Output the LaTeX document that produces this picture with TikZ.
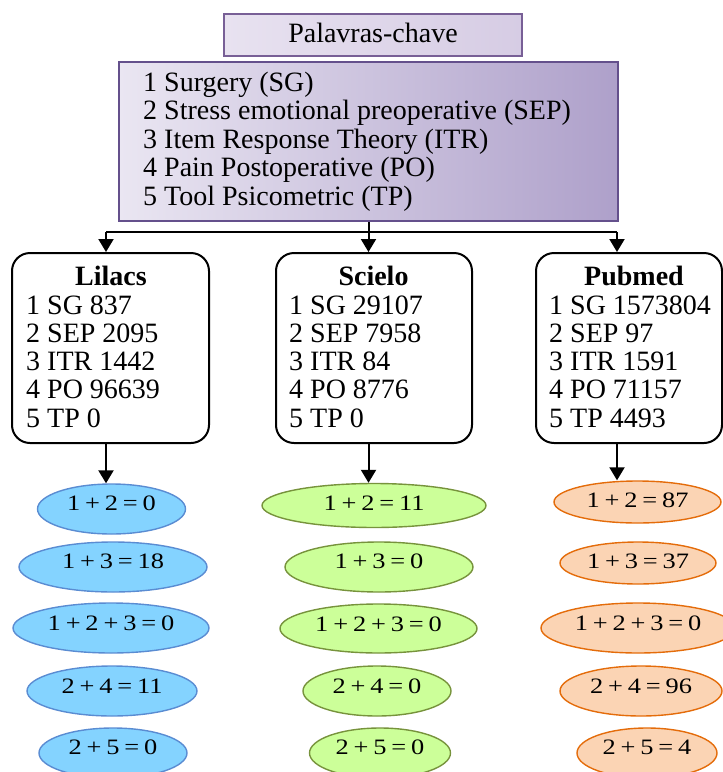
\documentclass[tikz,border=0pt]{standalone}
\usepackage{fontspec}
\setmainfont{Liberation Serif}
\newfontfamily\ellfam[FakeStretch=1.2]{Liberation Serif}
\usetikzlibrary{arrows.meta,shapes.geometric}
\definecolor{titleL}{RGB}{232,226,240}
\definecolor{titleR}{RGB}{214,204,228}
\definecolor{titleD}{RGB}{120,95,150}
\definecolor{kwL}{RGB}{234,230,242}
\definecolor{kwM}{RGB}{194,180,216}
\definecolor{kwR}{RGB}{174,160,202}
\definecolor{kwD}{RGB}{100,80,140}
\definecolor{blueF}{RGB}{132,211,255}
\definecolor{blueD}{RGB}{90,140,210}
\definecolor{greenF}{RGB}{204,255,153}
\definecolor{greenD}{RGB}{119,147,60}
\definecolor{orangeF}{RGB}{251,212,180}
\definecolor{orangeD}{RGB}{228,108,10}
\newcommand\ellfont{\ellfam\fontsize{22}{22}\selectfont\spaceskip=0.22em plus 0pt minus 0pt\relax}
\begin{document}
\begin{tikzpicture}[x=1pt,y=-1pt,
  bigfont/.style={font=\fontsize{28}{28}\selectfont},
  titlebox/.style={draw=titleD, line width=2pt, left color=titleL, right color=titleR, inner sep=0pt},
  kwbox/.style={draw=kwD, line width=2pt, left color=kwL, middle color=kwM, right color=kwR, inner sep=0pt},
  dbbox/.style={draw=black, line width=2pt, rounded corners=18pt, fill=white, inner sep=0pt, minimum height=190pt},
  txt/.style={anchor=base west, bigfont, inner sep=0pt},
  hdr/.style={anchor=base, font=\fontsize{28}{28}\selectfont\bfseries, inner sep=0pt},
  conn/.style={draw=black, line width=2pt},
  arr/.style={conn, -{Triangle[width=15pt,length=13pt]}},
  ell/.style={ellipse, inner sep=0pt, line width=1.4pt, text height=15pt, font={\ellfont}},
  eb/.style={ell, draw=blueD, fill=blueF},
  eg/.style={ell, draw=greenD, fill=greenF},
  eo/.style={ell, draw=orangeD, fill=orangeF}
]
\useasboundingbox (0,0) rectangle (723,772);

% title and keyword list
\node[titlebox, minimum width=298pt, minimum height=42pt] (title) at (373,35) {};
\node[anchor=base, bigfont, inner sep=0pt] (titletxt) at (373,42) {Palavras-chave};
\node[kwbox, minimum width=499pt, minimum height=159pt] (kw) at (368.5,141.5) {};
\foreach \t [count=\i] in {1 Surgery (SG),
  2 Stress emotional preoperative (SEP),
  3 Item Response Theory (ITR),
  4 Pain Postoperative (PO),
  5 Tool Psicometric (TP)}
  \node[txt] (kw\i) at (143,{91+28.5*(\i-1)}) {\t};

% database boxes
\node[dbbox, minimum width=197pt] (lil) at (110.5,348) {};
\node[dbbox, minimum width=196pt] (sci) at (374,348) {};
\node[dbbox, minimum width=186pt] (pub) at (629,348) {};
\node[hdr] (lilh) at (111,285) {Lilacs};
\node[hdr] (scih) at (373.5,285) {Scielo};
\node[hdr] (pubh) at (634,285) {Pubmed};
\foreach \t [count=\i] in {1 SG 837, 2 SEP 2095, 3 ITR 1442, 4 PO 96639, 5 TP 0}
  \node[txt] (lil\i) at (26,{314+28.25*(\i-1)}) {\t};
\foreach \t [count=\i] in {1 SG 29107, 2 SEP 7958, 3 ITR 84, 4 PO 8776, 5 TP 0}
  \node[txt] (sci\i) at (289,{314+28.25*(\i-1)}) {\t};
\foreach \t [count=\i] in {1 SG 1573804, 2 SEP 97, 3 ITR 1591, 4 PO 71157, 5 TP 4493}
  \node[txt] (pub\i) at (549,{314+28.25*(\i-1)}) {\t};

% connectors top
\coordinate (jl) at (106,232);
\coordinate (jr) at (617,232);
\draw[conn] (jl) -- (jr);
\draw[arr] (kw.south) -- (kw.south |- sci.north);
\draw[arr] (jl) -- (jl |- lil.north);
\draw[arr] (jr) -- (jr |- pub.north);

% ellipses Lilacs
\node[eb, minimum width=148pt, minimum height=50pt, text depth=12pt] (le1) at (111.5,509) {1 + 2 = 0};
\node[eb, minimum width=188pt, minimum height=50pt, text depth=12pt] (le2) at (113,567) {1 + 3 = 18};
\node[eb, minimum width=196pt, minimum height=50pt, text depth=10pt] (le3) at (111,628) {1 + 2 + 3 = 0};
\node[eb, minimum width=170pt, minimum height=50pt, text depth=10pt] (le4) at (112,691) {2 + 4 = 11};
\node[eb, minimum width=148pt, minimum height=50pt, text depth=12pt] (le5) at (113,753) {2 + 5 = 0};
% ellipses Scielo
\node[eg, minimum width=224pt, minimum height=44pt, text depth=5pt] (se1) at (374,505.5) {1 + 2 = 11};
\node[eg, minimum width=188pt, minimum height=50pt, text depth=12pt] (se2) at (379,567) {1 + 3 = 0};
\node[eg, minimum width=197pt, minimum height=49pt, text depth=10pt] (se3) at (378.5,628.5) {1 + 2 + 3 = 0};
\node[eg, minimum width=148pt, minimum height=50pt, text depth=10pt] (se4) at (377,691) {2 + 4 = 0};
\node[eg, minimum width=141pt, minimum height=50pt, text depth=12pt] (se5) at (380,753) {2 + 5 = 0};
% ellipses Pubmed
\node[eo, minimum width=167pt, minimum height=42pt, text depth=4pt] (pe1) at (637.5,502) {1 + 2 = 87};
\node[eo, minimum width=156pt, minimum height=42pt, text depth=4pt] (pe2) at (638,563) {1 + 3 = 37};
\node[eo, minimum width=194pt, minimum height=50pt, text depth=10pt] (pe3) at (638,628) {1 + 2 + 3 = 0};
\node[eo, minimum width=162pt, minimum height=50pt, text depth=10pt] (pe4) at (641,691) {2 + 4 = 96};
\node[eo, minimum width=140pt, minimum height=50pt, text depth=12pt] (pe5) at (647,753) {2 + 5 = 4};

% connectors bottom
\draw[arr] (lil.south -| jl) -- (jl |- le1.north);
\draw[arr] (sci.south -| kw.south) -- (kw.south |- se1.north);
\draw[arr] (pub.south -| jr) -- (jr |- pe1.north);
\end{tikzpicture}
\end{document}
